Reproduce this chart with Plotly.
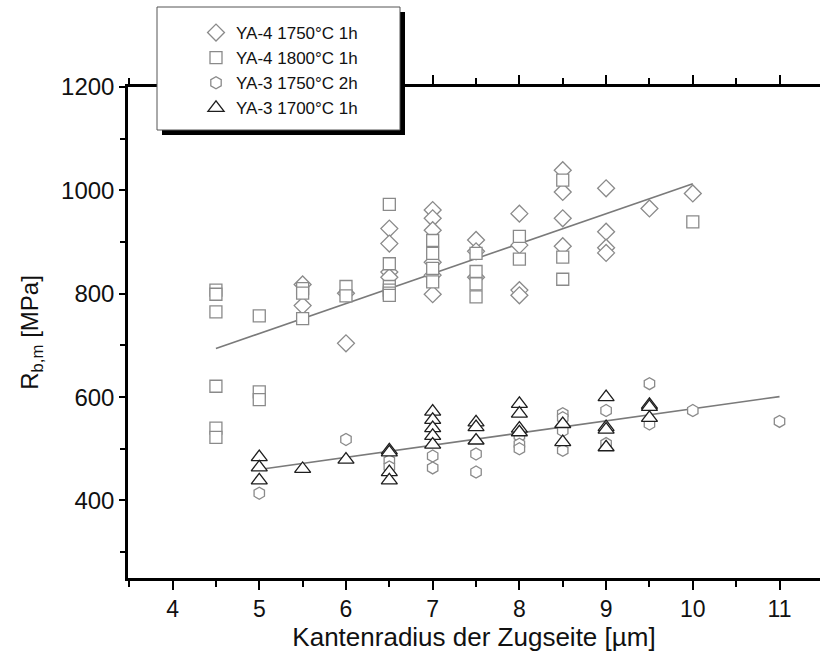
import plotly.graph_objects as go

# ---------------- data ----------------
# YA-4 1750°C 1h  (diamonds)
d_x = [5.5, 5.5, 6, 6, 6.5, 6.5, 6.5, 6.5, 7, 7, 7, 7, 7, 7, 7.5, 7.5, 7.5,
       8, 8, 8, 8, 8.5, 8.5, 8.5, 8.5, 9, 9, 9, 9, 9.5, 10]
d_y = [818, 777, 801, 704, 926, 897, 842, 832, 962, 946, 923, 861, 836, 799,
       904, 882, 832, 955, 894, 807, 797, 1039, 997, 946, 892, 1004, 920, 889, 879, 965, 994]

# YA-4 1800°C 1h  (squares)
s_x = [4.5, 4.5, 4.5, 4.5, 4.5, 4.5, 5, 5, 5, 5.5, 5.5, 5.5, 6, 6,
       6.5, 6.5, 6.5, 6.5, 6.5, 6.5, 7, 7, 7, 7, 7.5, 7.5, 7.5, 7.5,
       8, 8, 8.5, 8.5, 8.5, 10]
s_y = [807, 799, 765, 621, 540, 522, 757, 610, 595, 810, 801, 752, 814, 796,
       973, 858, 814, 807, 801, 797, 903, 878, 849, 823, 878, 843, 819, 794,
       911, 867, 1020, 871, 828, 939]

# YA-3 1750°C 2h  (hexagons)
h_x = [5, 6, 6.5, 6.5, 7, 7, 7.5, 7.5, 8, 8, 8, 8.5, 8.5, 8.5, 8.5,
       9, 9, 9.5, 9.5, 10, 11]
h_y = [414, 518, 477, 465, 486, 463, 490, 455, 525, 509, 500, 568, 560, 535, 497,
       574, 510, 626, 548, 574, 553]

# YA-3 1700°C 1h  (triangles)
t_x = [5, 5, 5, 5.5, 6, 6.5, 6.5, 6.5, 6.5, 7, 7, 7, 7, 7, 7.5, 7.5, 7.5,
       8, 8, 8, 8, 8.5, 8.5, 9, 9, 9, 9, 9.5, 9.5, 9.5]
t_y = [484, 464, 439, 461, 479, 497, 493, 455, 439, 572, 556, 540, 525, 508,
       551, 542, 516, 587, 568, 539, 532, 548, 513, 600, 542, 537, 503, 585, 581, 560]

# fitted lines as drawn in the reference
fit_up_x = [4.5, 10]
fit_up_y = [694, 1013]
fit_lo_x = [5, 11]
fit_lo_y = [460, 601]

series_names = ["YA-4 1750°C 1h", "YA-4 1800°C 1h", "YA-3 1750°C 2h", "YA-3 1700°C 1h"]
x_ticks = [4, 5, 6, 7, 8, 9, 10, 11]
y_ticks = [400, 600, 800, 1000, 1200]

# ---------------- figure ----------------
FONT = "Liberation Sans, Arial, sans-serif"
GRAY = "#8a8a8a"
DARK = "#1e1e1e"

fig = go.Figure()

for fx, fy in [(fit_up_x, fit_up_y), (fit_lo_x, fit_lo_y)]:
    fig.add_trace(go.Scatter(x=fx, y=fy, mode="lines",
                             line=dict(color="#7a7a7a", width=1.6),
                             showlegend=False, hoverinfo="skip"))

specs = [
    (d_x, d_y, "diamond", 13, GRAY),
    (s_x, s_y, "square", 12, GRAY),
    (h_x, h_y, "hexagon", 12, GRAY),
    (t_x, t_y, "triangle-up", 14, DARK),
]
for (xx, yy, sym, size, col), name in zip(specs, series_names):
    fig.add_trace(go.Scatter(
        x=xx, y=yy, mode="markers", name=name,
        marker=dict(symbol=sym, size=size, color="white",
                    line=dict(color=col, width=1.3)),
    ))

L, T, W, H = 128, 87, 692, 491  # plot area in px


def px2paper(px, py):
    return (px - L) / W, (T + H - py) / H


# legend box with drop shadow
sx0, sy0 = px2paper(162, 135)
sx1, sy1 = px2paper(405, 12)
bx0, by0 = px2paper(157, 130)
bx1, by1 = px2paper(400, 7)
fig.add_shape(type="rect", xref="paper", yref="paper", x0=sx0, x1=sx1, y0=sy0, y1=sy1,
              fillcolor="black", line=dict(width=0), layer="above")
fig.add_shape(type="rect", xref="paper", yref="paper", x0=bx0, x1=bx1, y0=by0, y1=by1,
              fillcolor="white", line=dict(color="#555555", width=1), layer="above")

lx, ly = px2paper(196, 15)

fig.update_layout(
    width=820, height=661,
    margin=dict(l=L, r=820 - L - W, t=T, b=661 - T - H),
    paper_bgcolor="white", plot_bgcolor="white",
    font=dict(family=FONT, color="#111111"),
    showlegend=True,
    legend=dict(x=lx, y=ly, xanchor="left", yanchor="top",
                bgcolor="rgba(0,0,0,0)", borderwidth=0,
                font=dict(size=17, family=FONT, color="#111111"),
                itemsizing="trace", tracegroupgap=0),
    xaxis=dict(range=[3.486, 11.467], tickvals=x_ticks,
               ticks="outside", ticklen=9, tickwidth=2, tickcolor="black",
               minor=dict(dtick=0.5, tick0=0, ticks="outside", ticklen=6,
                          tickwidth=2, tickcolor="black"),
               showline=True, linewidth=2.5, linecolor="black", mirror="ticks",
               showgrid=False, zeroline=False,
               tickfont=dict(size=23, family=FONT),
               title=dict(text="Kantenradius der Zugseite [µm]",
                          font=dict(size=26, family=FONT), standoff=6)),
    yaxis=dict(range=[250, 1200], tickvals=y_ticks,
               ticks="outside", ticklen=6, tickwidth=2, tickcolor="black",
               minor=dict(dtick=100, tick0=0, ticks="outside", ticklen=5,
                          tickwidth=2, tickcolor="black"),
               showline=True, linewidth=2.5, linecolor="black",
               showgrid=False, zeroline=False,
               tickfont=dict(size=24, family=FONT),
               title=dict(text="R<sub>b,m</sub> [MPa]",
                          font=dict(size=24, family=FONT), standoff=16)),
)

fig.write_html("out.html")
